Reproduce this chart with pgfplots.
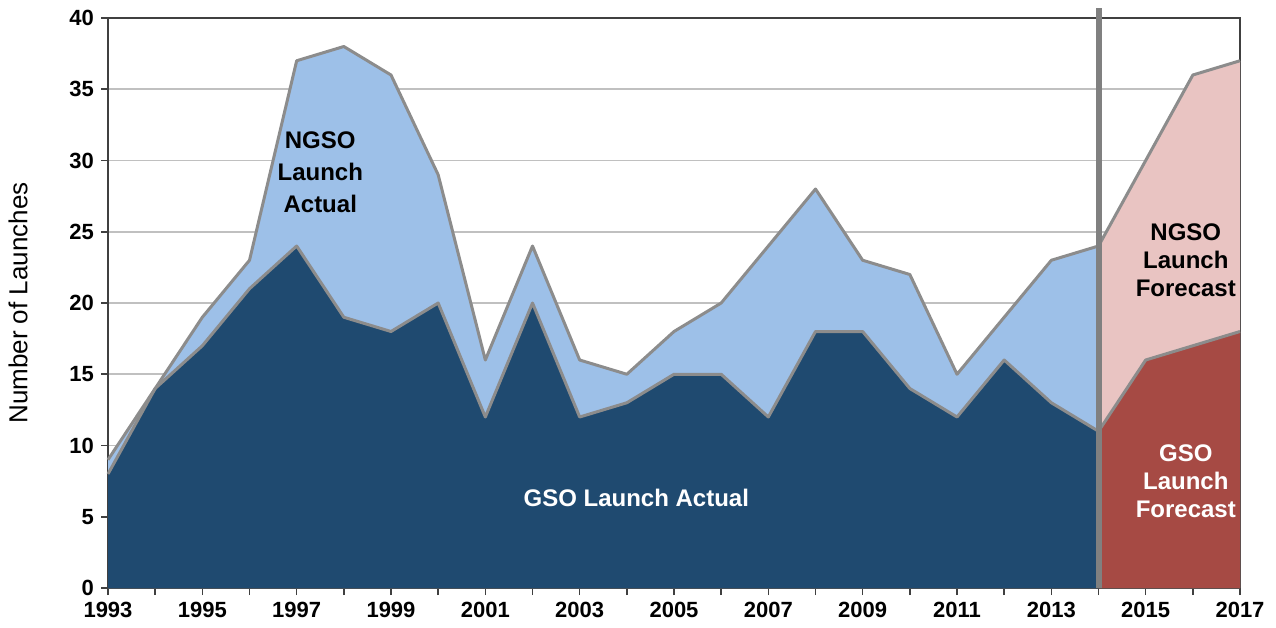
\documentclass[border=0pt]{standalone}
\usepackage{fontspec}
\setmainfont{Liberation Sans}
\usepackage{pgfplots}
\pgfplotsset{compat=1.18}
\definecolor{navyfill}{HTML}{1F4A70}
\definecolor{lightbluefill}{HTML}{9DC0E8}
\definecolor{pinkfill}{HTML}{E9C4C2}
\definecolor{redfill}{HTML}{A64A44}
\definecolor{outlinegray}{HTML}{8C8C8C}
\definecolor{sepgray}{HTML}{808080}
\definecolor{gridgray}{HTML}{C0C0C0}
\definecolor{axisdark}{HTML}{404040}
\pgfplotsset{
  layers/mylayers/.define layer set={axis background,axis grid,main,axis ticks,axis lines,axis tick labels,axis descriptions,axis foreground}{},
}
\begin{document}
\begin{tikzpicture}
\begin{axis}[
  set layers=mylayers,
  scale only axis, width=566pt, height=285pt,
  xmin=1993, xmax=2017, ymin=0, ymax=40,
  xtick={1993,1995,...,2017}, minor xtick={1994,1996,...,2016},
  ytick={0,5,...,40},
  /pgf/number format/assume math mode=true,
  /pgf/number format/1000 sep={},
  tick label style={font=\bfseries\fontsize{11}{13}\selectfont, color=black},
  tick align=outside, tick pos=left,
  major tick length=3.5pt, minor tick length=3.5pt,
  tick style={color=axisdark, line width=0.8pt},
  ymajorgrids, grid style={color=gridgray, line width=0.8pt},
  axis line style={color=axisdark, line width=1pt},
  ylabel={Number of Launches},
  ylabel style={at={(axis description cs:-0.0795,0.5)}, rotate=0, anchor=center, font=\fontsize{13}{15}\selectfont},
  clip=false,
]
% total actual (GSO+NGSO)
\addplot[fill=lightbluefill, draw=none] coordinates {
(1993,9)(1994,14)(1995,19)(1996,23)(1997,37)(1998,38)(1999,36)(2000,29)(2001,16)(2002,24)(2003,16)(2004,15)(2005,18)(2006,20)(2007,24)(2008,28)(2009,23)(2010,22)(2011,15)(2012,19)(2013,23)(2014,24)
} \closedcycle;
% GSO actual
\addplot[fill=navyfill, draw=none] coordinates {
(1993,8)(1994,14)(1995,17)(1996,21)(1997,24)(1998,19)(1999,18)(2000,20)(2001,12)(2002,20)(2003,12)(2004,13)(2005,15)(2006,15)(2007,12)(2008,18)(2009,18)(2010,14)(2011,12)(2012,16)(2013,13)(2014,11)
} \closedcycle;
% total forecast
\addplot[fill=pinkfill, draw=none] coordinates {
(2014,24)(2015,30)(2016,36)(2017,37)
} \closedcycle;
% GSO forecast
\addplot[fill=redfill, draw=none] coordinates {
(2014,11)(2015,16)(2016,17)(2017,18)
} \closedcycle;
% outlines
\addplot[outlinegray, line width=1.5pt, line join=round] coordinates {
(1993,9)(1994,14)(1995,19)(1996,23)(1997,37)(1998,38)(1999,36)(2000,29)(2001,16)(2002,24)(2003,16)(2004,15)(2005,18)(2006,20)(2007,24)(2008,28)(2009,23)(2010,22)(2011,15)(2012,19)(2013,23)(2014,24)(2015,30)(2016,36)(2017,37)
};
\addplot[outlinegray, line width=1.5pt, line join=round] coordinates {
(1993,8)(1994,14)(1995,17)(1996,21)(1997,24)(1998,19)(1999,18)(2000,20)(2001,12)(2002,20)(2003,12)(2004,13)(2005,15)(2006,15)(2007,12)(2008,18)(2009,18)(2010,14)(2011,12)(2012,16)(2013,13)(2014,11)(2015,16)(2016,17)(2017,18)
};
\draw[sepgray, line width=3pt] (axis cs:2014,0) -- (axis cs:2014,40.7);
\node[align=center, font=\bfseries\fontsize{12}{16}\selectfont, text=black] at (axis cs:1997.5,29.2) {NGSO\\Launch\\Actual};
\node[font=\bfseries\fontsize{12}{14}\selectfont, text=white] at (axis cs:2004.2,6.3) {GSO Launch Actual};
\node[align=center, font=\bfseries\fontsize{12}{14}\selectfont, text=black] at (axis cs:2015.85,23.0) {NGSO\\Launch\\Forecast};
\node[align=center, font=\bfseries\fontsize{12}{14}\selectfont, text=white] at (axis cs:2015.85,7.5) {GSO\\Launch\\Forecast};
\end{axis}
\pgfresetboundingbox
\path[use as bounding box] ([shift={(-54pt,-19.5pt)}]current axis.south west) rectangle ([shift={(18pt,9pt)}]current axis.north east);
\end{tikzpicture}
\end{document}
